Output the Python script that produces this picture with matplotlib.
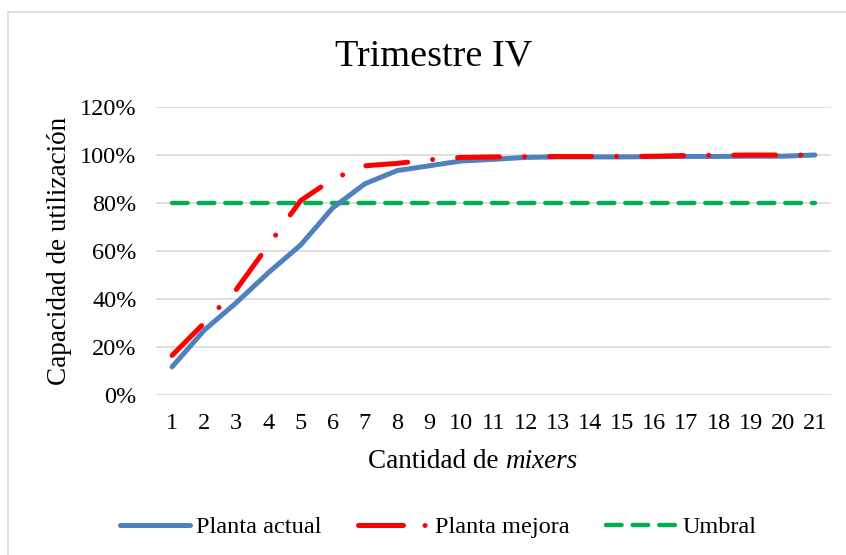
import matplotlib.pyplot as plt
from matplotlib.lines import Line2D
from matplotlib.ticker import PercentFormatter

plt.rcParams['font.family'] = ['Liberation Serif', 'DejaVu Serif']

# Cantidad de mixers
mixers = list(range(1, 22))

# Capacidad de utilización por escenario
planta_actual = [0.117, 0.27, 0.385, 0.51, 0.625, 0.78, 0.88, 0.935, 0.955, 0.975,
                 0.982, 0.99, 0.992, 0.992, 0.992, 0.993, 0.994, 0.994, 0.995, 0.995, 1.0]
planta_mejora = [0.165, 0.30, 0.44, 0.625, 0.81, 0.90, 0.955, 0.965, 0.98, 0.99,
                 0.992, 0.993, 0.994, 0.994, 0.994, 0.995, 0.998, 0.999, 1.0, 1.0, 1.0]
umbral = [0.80] * 21

AZUL = '#4F81BD'
ROJO = '#FF0000'
VERDE = '#00B050'
RAYA_PUNTO = (8.4, 5.0, 0.01, 5.0)
RAYAS = (3.5, 2.5)

fig = plt.figure(figsize=(8.46, 5.55), dpi=100)
ax = fig.add_axes([156 / 846, 1 - 395 / 555, 675 / 846, 288 / 555])

ax.plot(mixers, planta_actual, color=AZUL, lw=3.6, solid_capstyle='round',
        solid_joinstyle='round', zorder=3)
ax.plot(mixers, planta_mejora, color=ROJO, lw=3.6, dashes=RAYA_PUNTO,
        dash_capstyle='round', zorder=4)
ax.plot(mixers, umbral, color=VERDE, lw=3.2, dashes=RAYAS,
        dash_capstyle='round', zorder=2)

ax.set_xlim(0.5, 21.5)
ax.set_ylim(0, 1.2)
ax.set_xticks(mixers)
ax.set_yticks([0, 0.2, 0.4, 0.6, 0.8, 1.0, 1.2])
ax.yaxis.set_major_formatter(PercentFormatter(1.0, decimals=0))
ax.tick_params(axis='both', length=0, labelsize=17.5, colors='black')
ax.tick_params(axis='x', pad=13)
ax.tick_params(axis='y', pad=14)
ax.grid(axis='y', color='#D9D9D9', lw=1.2)
ax.set_axisbelow(True)
for s in ax.spines.values():
    s.set_visible(False)

ax.set_ylabel('Capacidad de utilización', fontsize=19.5, labelpad=6)

# título y rótulo del eje x
fig.text(434 / 846, 1 - 56 / 555, 'Trimestre IV', fontsize=27.5, ha='center', va='center')
fig.text(505 / 846, 1 - 462 / 555, 'Cantidad de ', fontsize=19.5, ha='right', va='center')
fig.text(505 / 846, 1 - 462 / 555, 'mixers', fontsize=19.5, ha='left', va='center',
         style='italic')

# en la leyenda la raya roja va seguida de su punto
handles = [
    Line2D([], [], color=AZUL, lw=3.6, solid_capstyle='round'),
    Line2D([], [], color=ROJO, lw=3.6, dashes=(9.0, 4.3, 0.01, 10.0), dash_capstyle='round'),
    Line2D([], [], color=VERDE, lw=3.2, dashes=RAYAS, dash_capstyle='round'),
]
fig.legend(handles, ['Planta actual', 'Planta mejora', 'Umbral'], loc='center',
           bbox_to_anchor=(438 / 846, 1 - 527 / 555), ncol=3, frameon=False, fontsize=17.5,
           handlelength=2.9, handletextpad=0.25, columnspacing=1.5)

# marco del gráfico
fig.add_artist(Line2D([7.5 / 846, 7.5 / 846], [0, 1 - 11.5 / 555], color='#D9D9D9', lw=1.2))
fig.add_artist(Line2D([7.5 / 846, 1], [1 - 11.5 / 555, 1 - 11.5 / 555], color='#D9D9D9', lw=1.2))

fig.savefig('out.png', dpi=100, facecolor='white')
